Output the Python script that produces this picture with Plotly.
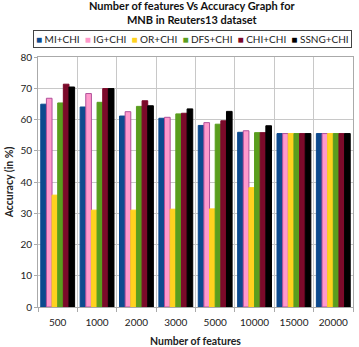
import plotly.graph_objects as go

categories = ["500", "1000", "2000", "3000", "5000", "10000", "15000", "20000"]
series_names = ["MI+CHI", "IG+CHI", "OR+CHI", "DFS+CHI", "CHI+CHI", "SSNG+CHI"]
mi_chi = [64.9, 64.0, 61.1, 60.4, 58.1, 55.9, 55.5, 55.5]
ig_chi = [66.8, 68.3, 62.5, 60.7, 59.0, 56.4, 55.5, 55.5]
or_chi = [35.8, 31.0, 31.0, 31.3, 31.4, 38.2, 55.5, 55.5]
dfs_chi = [65.3, 65.5, 64.2, 61.8, 58.5, 55.8, 55.5, 55.5]
chi_chi = [71.3, 69.9, 66.0, 62.0, 59.6, 55.8, 55.5, 55.5]
ssng_chi = [70.4, 69.9, 64.4, 63.4, 62.6, 58.0, 55.5, 55.5]
y_ticks = [0, 10, 20, 30, 40, 50, 60, 70, 80]

series_values = [mi_chi, ig_chi, or_chi, dfs_chi, chi_chi, ssng_chi]
fills = ["#0D4A8E", "#FF99CC", "#FFD21F", "#5A9E1E", "#7B0A2A", "#000000"]
borders = ["#0D4A8E", "#B0509A", "#FFD21F", "#5A9E1E", "#7B0A2A", "#000000"]

font = "Lato, Liberation Sans, sans-serif"
fig = go.Figure()
for name, vals, fc, bc in zip(series_names, series_values, fills, borders):
    fig.add_trace(go.Bar(
        x=categories, y=vals, name=name, showlegend=False,
        marker=dict(color=fc, line=dict(color=bc, width=1)),
    ))

# legend drawn as a boxed text row (square markers + names)
legend_parts = []
for name, fc in zip(series_names, fills):
    legend_parts.append(f"<span style='color:{fc}'>■</span> {name}")
legend_text = "  ".join(legend_parts)

fig.add_annotation(
    text=legend_text, xref="paper", yref="paper",
    x=0.49, y=1.072, xanchor="center", yanchor="middle", showarrow=False,
    font=dict(family=font, size=10, color="#222222"),
    bordercolor="#444444", borderwidth=1, borderpad=2, bgcolor="white",
)

# chart title
fig.add_annotation(
    text="<b>Number of features Vs Accuracy Graph for<br>MNB in Reuters13 dataset</b>",
    xref="paper", yref="paper", x=0.49, y=1.178,
    xanchor="center", yanchor="middle", showarrow=False,
    font=dict(family=font, size=11, color="#111111"),
)

fig.update_layout(
    width=359, height=347,
    margin=dict(l=38, r=6, t=57, b=40, autoexpand=False),
    paper_bgcolor="white", plot_bgcolor="white",
    barmode="group", bargap=0.14, bargroupgap=0,
    showlegend=False,
    font=dict(family=font, size=10, color="#222222"),
    xaxis=dict(
        type="category", tickson="boundaries",
        showgrid=True, gridcolor="#C8C8C8", gridwidth=1,
        ticks="outside", ticklen=4, tickcolor="#AAAAAA",
        showline=True, linecolor="#AAAAAA", mirror=True,
        tickfont=dict(size=10), automargin=False, ticklabelstandoff=6,
        title=dict(text="<b>Number of features</b>", font=dict(size=10.5), standoff=10),
    ),
    yaxis=dict(
        range=[0, 80], tickvals=y_ticks,
        showgrid=True, gridcolor="#C8C8C8", gridwidth=1,
        ticks="outside", ticklen=3, tickcolor="#AAAAAA",
        showline=True, linecolor="#AAAAAA", mirror=True,
        zeroline=False, automargin=False,
        tickfont=dict(size=10),
        title=dict(text="<b>Accuracy (in %)</b>", font=dict(size=10.5), standoff=4),
    ),
)

fig.write_html(
    "out.html",
    config={"displayModeBar": False},
    post_script="document.body.style.margin='0';document.body.style.overflow='hidden';",
)
